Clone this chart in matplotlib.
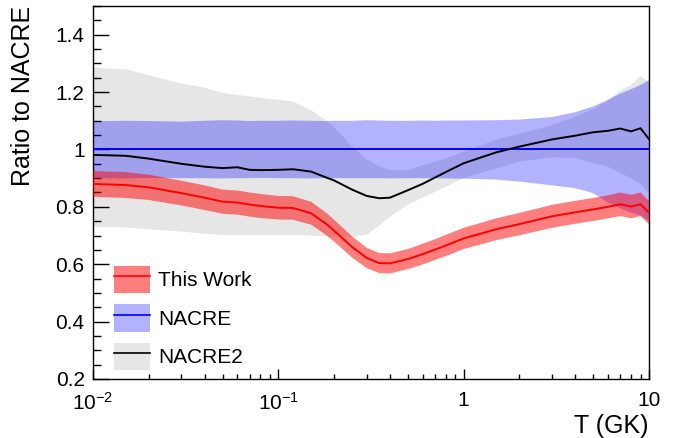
import matplotlib
matplotlib.use('Agg')
import matplotlib.pyplot as plt
from matplotlib.patches import Patch
from matplotlib.lines import Line2D
from matplotlib.ticker import FixedLocator, MultipleLocator, LogLocator, NullFormatter

plt.rcParams['font.family'] = ['Liberation Sans', 'DejaVu Sans']
plt.rcParams['mathtext.fontset'] = 'custom'
plt.rcParams['mathtext.rm'] = 'Liberation Sans'
plt.rcParams['mathtext.it'] = 'Liberation Sans:italic'
plt.rcParams['mathtext.bf'] = 'Liberation Sans:bold'

# ---- data ----
T = [0.01, 0.015, 0.02, 0.03, 0.04, 0.05, 0.06, 0.07, 0.08, 0.10, 0.12, 0.15,
     0.18, 0.20, 0.25, 0.30, 0.35, 0.40, 0.50, 0.60, 0.70, 0.80, 1.0, 1.5,
     2.0, 3.0, 4.0, 5.0, 6.0, 7.0, 8.0, 9.0, 10.0]

this_work = [0.880, 0.876, 0.868, 0.848, 0.832, 0.818, 0.815, 0.808, 0.803, 0.797, 0.796, 0.778,
             0.742, 0.717, 0.660, 0.622, 0.604, 0.603, 0.618, 0.635, 0.651, 0.665, 0.690, 0.722,
             0.740, 0.767, 0.781, 0.791, 0.800, 0.809, 0.801, 0.809, 0.780]
this_work_err = [0.045, 0.045, 0.044, 0.043, 0.043, 0.042, 0.042, 0.042, 0.042, 0.041, 0.041, 0.040,
                 0.039, 0.038, 0.037, 0.035, 0.035, 0.035, 0.035, 0.036, 0.036, 0.037, 0.037, 0.038,
                 0.039, 0.040, 0.040, 0.040, 0.040, 0.041, 0.041, 0.041, 0.040]

nacre = [1.0, 1.0, 1.0, 1.0, 1.0, 1.0, 1.0, 1.0, 1.0, 1.0, 1.0, 1.0,
         1.0, 1.0, 1.0, 1.0, 1.0, 1.0, 1.0, 1.0, 1.0, 1.0, 1.0, 1.0,
         1.0, 1.0, 1.0, 1.0, 1.0, 1.0, 1.0, 1.0, 1.0]
nacre_low = [0.900, 0.899, 0.901, 0.900, 0.900, 0.899, 0.900, 0.900, 0.901, 0.900, 0.900, 0.899,
             0.900, 0.900, 0.900, 0.900, 0.900, 0.899, 0.900, 0.900, 0.900, 0.899, 0.898, 0.895,
             0.888, 0.875, 0.865, 0.848, 0.815, 0.795, 0.780, 0.770, 0.750]
nacre_high = [1.098, 1.100, 1.099, 1.097, 1.100, 1.102, 1.101, 1.099, 1.100, 1.100, 1.101, 1.100,
              1.099, 1.100, 1.100, 1.102, 1.101, 1.100, 1.100, 1.101, 1.100, 1.101, 1.101, 1.102,
              1.104, 1.113, 1.130, 1.150, 1.173, 1.195, 1.210, 1.225, 1.242]

nacre2 = [0.981, 0.978, 0.968, 0.950, 0.940, 0.935, 0.938, 0.929, 0.928, 0.929, 0.931, 0.923,
          0.903, 0.892, 0.860, 0.838, 0.830, 0.832, 0.858, 0.880, 0.902, 0.921, 0.952, 0.990,
          1.010, 1.035, 1.048, 1.060, 1.065, 1.073, 1.063, 1.074, 1.036]
nacre2_low = [0.731, 0.728, 0.722, 0.714, 0.706, 0.702, 0.702, 0.702, 0.702, 0.702, 0.702, 0.700,
              0.697, 0.696, 0.696, 0.703, 0.735, 0.765, 0.808, 0.832, 0.852, 0.870, 0.900, 0.934,
              0.958, 0.973, 0.970, 0.953, 0.940, 0.918, 0.900, 0.880, 0.845]
nacre2_high = [1.284, 1.280, 1.258, 1.230, 1.215, 1.197, 1.190, 1.185, 1.180, 1.173, 1.167, 1.137,
               1.103, 1.078, 1.010, 0.965, 0.942, 0.927, 0.928, 0.945, 0.957, 0.968, 0.992, 1.034,
               1.055, 1.085, 1.115, 1.140, 1.170, 1.205, 1.225, 1.255, 1.235]

labels = ['This Work', 'NACRE', 'NACRE2']
x_ticks = [0.01, 0.1, 1, 10]
x_tick_labels = [r'$10^{-2}$', r'$10^{-1}$', '1', '10']
y_ticks = [0.2, 0.4, 0.6, 0.8, 1.0, 1.2, 1.4]
y_tick_labels = ['0.2', '0.4', '0.6', '0.8', '1', '1.2', '1.4']

# ---- figure ----
W, H = 675, 438
fig = plt.figure(figsize=(W / 100, H / 100), dpi=100)
ax = fig.add_axes([93 / W, 1 - 379 / H, (649 - 93) / W, (379 - 6) / H])

grey = '#e6e6e6'
blue_fc = (0, 0, 1, 0.30)
red_fc = (1, 0, 0, 0.50)

tw_low = [v - e for v, e in zip(this_work, this_work_err)]
tw_high = [v + e for v, e in zip(this_work, this_work_err)]

ax.fill_between(T, nacre2_low, nacre2_high, facecolor=grey, edgecolor='none', zorder=1)
ax.fill_between(T, nacre_low, nacre_high, facecolor=blue_fc, edgecolor='none', zorder=2)
ax.fill_between(T, tw_low, tw_high, facecolor=red_fc, edgecolor='none', zorder=3)
ax.plot(T, nacre, color='#0000ff', lw=1.4, zorder=4)
ax.plot(T, nacre2, color='black', lw=1.4, zorder=5)
ax.plot(T, this_work, color='#ff0000', lw=1.4, zorder=6)

ax.set_xscale('log')
ax.set_xlim(0.01, 10)
ax.set_ylim(0.2, 1.5)

ax.xaxis.set_major_locator(FixedLocator(x_ticks))
ax.set_xticklabels(x_tick_labels)
ax.xaxis.set_minor_locator(LogLocator(base=10, subs=[2, 3, 4, 5, 6, 7, 8, 9]))
ax.xaxis.set_minor_formatter(NullFormatter())
ax.yaxis.set_major_locator(FixedLocator(y_ticks))
ax.set_yticklabels(y_tick_labels)
ax.yaxis.set_minor_locator(MultipleLocator(0.05))

ax.tick_params(axis='both', which='both', direction='in', top=False, right=False,
               labelsize=15, width=1)
ax.tick_params(axis='y', which='major', length=11.5, pad=6)
ax.tick_params(axis='y', which='minor', length=5.8)
ax.tick_params(axis='x', which='major', length=7.2, pad=9)
ax.tick_params(axis='x', which='minor', length=3.6)
for s in ax.spines.values():
    s.set_linewidth(1.0)
    s.set_color('black')

ax.text(1.0, -0.1448, 'T (GK)', transform=ax.transAxes, ha='right', va='baseline', fontsize=18)
ax.text(-0.126, 1.0, 'Ratio to NACRE', transform=ax.transAxes, ha='center', va='top',
        rotation=90, fontsize=18)

handles = [
    (Patch(facecolor=red_fc, edgecolor='none'), Line2D([], [], color='#ff0000', lw=1.2)),
    (Patch(facecolor=blue_fc, edgecolor='none'), Line2D([], [], color='#0000ff', lw=1.2)),
    (Patch(facecolor=grey, edgecolor='none'), Line2D([], [], color='black', lw=1.2)),
]
ax.legend(handles, labels, loc='upper left', bbox_to_anchor=((114 - 93) / 556, (379 - 266) / 373),
          frameon=False, fontsize=15, handlelength=1.73, handleheight=1.62,
          handletextpad=0.38, labelspacing=0.55, borderpad=0, borderaxespad=0)

fig.savefig('out.png', dpi=100)
